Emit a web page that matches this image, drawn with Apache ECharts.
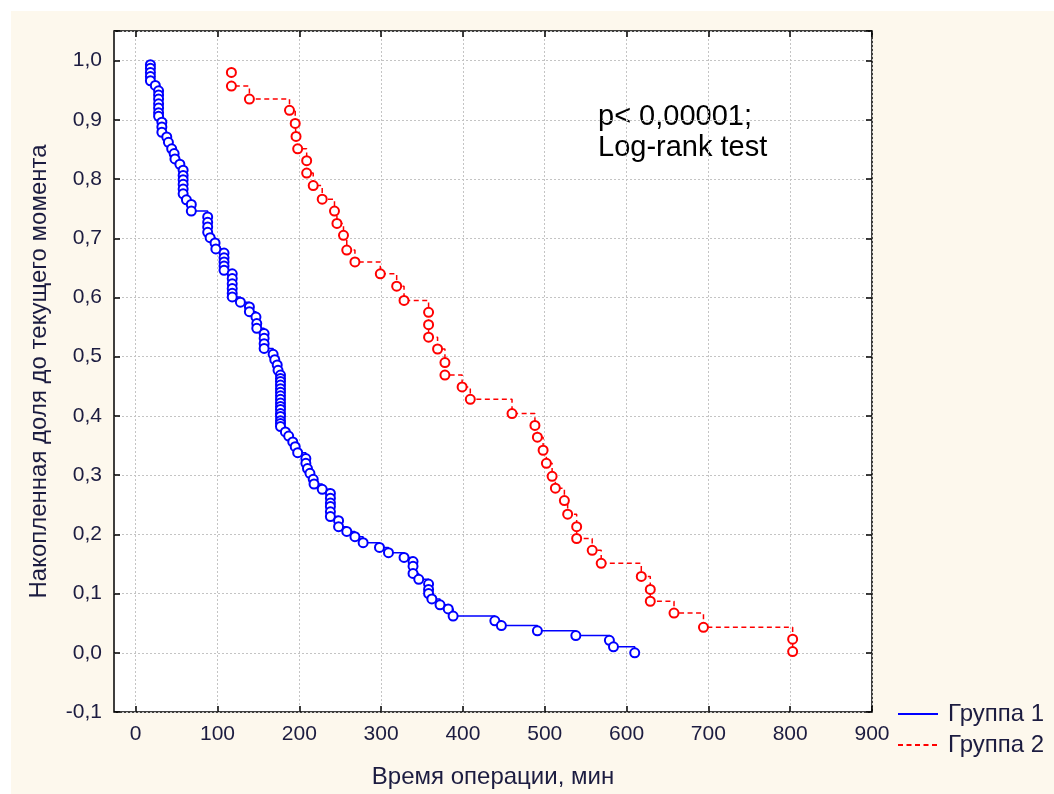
<!DOCTYPE html>
<html>
<head>
<meta charset="utf-8">
<script src="https://cdn.jsdelivr.net/npm/echarts@6.0.0/dist/echarts.min.js"></script>
<style>
  html, body { margin: 0; padding: 0; background: #fff; }
  #panel { position: absolute; left: 11px; top: 11px; width: 1043px; height: 783px; background: #fdf8ed; }
  #chart { position: absolute; left: 0; top: 0; width: 1054px; height: 794px; }
</style>
</head>
<body>
<div id="panel"></div>
<div id="chart"></div>
<script>
// Группа 1 — время (мин) и накопленная доля
const time1 = [18, 18, 18, 18, 18, 24, 28, 28, 28, 28, 28, 28, 28, 32, 32, 32,
  38, 40, 44, 47, 48, 54, 58, 58, 58, 58, 58, 58, 62, 68, 68, 88, 88, 88, 88,
  91, 97, 98, 108, 108, 108, 108, 108, 118, 118, 118, 118, 118, 118, 128, 139, 139, 147,
  148, 148, 157, 157, 157, 157, 168, 170, 173, 174,
  177, 177, 177, 177, 177, 177, 177, 177, 177, 177, 177, 177, 177, 177, 177, 177,
  183, 187, 192, 195, 198, 208, 208, 210, 213, 217, 218, 228,
  238, 238, 238, 238, 238, 238, 248, 248, 258, 268, 278, 298, 309,
  328, 339, 339, 339, 346, 358, 358, 358, 362, 372, 382, 388,
  439, 447, 491, 538, 579, 584, 610]
const value1 = [0.993, 0.987, 0.980, 0.973, 0.966, 0.958, 0.949, 0.942, 0.935, 0.927, 0.920, 0.912, 0.906,
  0.896, 0.888, 0.879, 0.871, 0.862, 0.851, 0.843, 0.834, 0.825,
  0.815, 0.806, 0.799, 0.791, 0.783, 0.775, 0.765, 0.757, 0.746, 0.736, 0.727, 0.719, 0.710,
  0.701, 0.692, 0.682, 0.675, 0.667, 0.660, 0.653, 0.646, 0.640, 0.632, 0.623, 0.615, 0.607, 0.601,
  0.592, 0.584, 0.576, 0.567, 0.556, 0.548, 0.539, 0.531, 0.522, 0.514, 0.504, 0.495, 0.486, 0.477,
  0.469, 0.463, 0.458, 0.452, 0.446, 0.440, 0.434, 0.428, 0.422, 0.416, 0.411, 0.404, 0.399, 0.392, 0.387, 0.382,
  0.373, 0.366, 0.356, 0.348, 0.338, 0.328, 0.320, 0.311, 0.303, 0.293, 0.285, 0.276,
  0.269, 0.261, 0.253, 0.247, 0.238, 0.230, 0.223, 0.213, 0.205, 0.196, 0.186, 0.178, 0.169,
  0.161, 0.154, 0.146, 0.134, 0.124, 0.116, 0.107, 0.100, 0.091, 0.081, 0.074, 0.062,
  0.054, 0.046, 0.037, 0.029, 0.021, 0.010, 0.000]

// Группа 2
const time2 = [117, 117, 139, 188, 195, 196, 198, 209, 209, 217, 228, 243, 246, 254, 258, 268, 299, 319,
  328, 358, 358, 358, 369, 378, 378, 399, 409, 460, 488, 491, 498, 502, 509, 513, 524, 528, 539,
  539, 558, 569, 618, 629, 629, 658, 694, 803, 803]
const value2 = [0.980, 0.957, 0.935, 0.916, 0.894, 0.872, 0.851, 0.831, 0.810, 0.789, 0.766, 0.746, 0.725,
  0.705, 0.680, 0.660, 0.640, 0.619, 0.595, 0.575, 0.554, 0.533, 0.513, 0.490, 0.469, 0.449, 0.428,
  0.404, 0.384, 0.364, 0.342, 0.320, 0.298, 0.278, 0.257, 0.234, 0.213, 0.193, 0.173, 0.151,
  0.129, 0.107, 0.087, 0.067, 0.043, 0.023, 0.002]

const xTicks = [0, 100, 200, 300, 400, 500, 600, 700, 800, 900]
const seriesNames = ['Группа 1', 'Группа 2']
const note = 'p< 0,00001;\nLog-rank test'

const textColor = '#1c1c40'
const font = 'Liberation Sans, Arial, sans-serif'

function pairs (xs, ys) {
  return xs.map((x, i) => [x, ys[i]])
}

// подписи оси Y с запятой, без подписи у верхней границы 1,05
function yLabel (v) {
  const r = Math.round(v * 10)
  if (Math.abs(v * 10 - r) > 1e-6) return ''
  return (r / 10).toFixed(1).replace('.', ',')
}

const xBase = {
  type: 'value',
  min: -26.5,
  max: 900,
  axisLine: { show: false, onZero: false },
  axisTick: { show: true, inside: true, length: 6, customValues: xTicks, lineStyle: { color: '#000', width: 1.5 } },
  splitLine: { show: false }
}
const yBase = {
  type: 'value',
  min: -0.1,
  max: 1.05,
  interval: 0.1,
  axisLine: { show: false, onZero: false },
  axisTick: { show: true, inside: true, length: 6, lineStyle: { color: '#000', width: 1.5 } },
  splitLine: { show: false }
}
const gridLine = { show: true, lineStyle: { color: '#c4c4c4', width: 1, type: [2, 2] } }

const options = {
  animation: false,
  textStyle: { fontFamily: font },
  grid: {
    left: 114, top: 31, right: 182, bottom: 82,
    show: true,
    backgroundColor: '#fff',
    borderColor: '#000',
    borderWidth: 1.5
  },
  legend: {
    orient: 'vertical',
    left: 897,
    top: 702,
    padding: 0,
    itemWidth: 40,
    itemHeight: 20,
    itemGap: 7,
    data: seriesNames,
    itemStyle: { opacity: 0 },
    textStyle: { fontSize: 24, color: textColor, fontFamily: font, padding: [0, 0, 0, 5] }
  },
  graphic: [{
    type: 'text',
    left: 598,
    top: 101,
    style: { text: note, font: '29px ' + font, fill: '#000', lineHeight: 31 }
  }],
  xAxis: [
    Object.assign({}, xBase, {
      position: 'bottom',
      name: 'Время операции, мин',
      nameLocation: 'middle',
      nameGap: 53,
      nameTextStyle: { fontSize: 24, color: textColor, fontFamily: font },
      axisLabel: { customValues: xTicks, fontSize: 21, color: textColor, margin: 12 },
      splitLine: gridLine
    }),
    Object.assign({}, xBase, { position: 'top', axisLabel: { show: false } })
  ],
  yAxis: [
    Object.assign({}, yBase, {
      position: 'left',
      name: 'Накопленная доля до текущего момента',
      nameLocation: 'middle',
      nameGap: 63,
      nameTextStyle: { fontSize: 24, color: textColor, fontFamily: font },
      axisLabel: { formatter: yLabel, fontSize: 21, color: textColor, margin: 12 },
      splitLine: gridLine
    }),
    Object.assign({}, yBase, { position: 'right', axisLabel: { show: false } })
  ],
  series: [{
    name: seriesNames[0],
    type: 'line',
    step: 'end',
    data: pairs(time1, value1),
    symbol: 'emptyCircle',
    symbolSize: 9,
    showAllSymbol: true,
    color: '#0000ff',
    lineStyle: { color: '#0000ff', width: 1.5 },
    itemStyle: { color: '#0000ff', borderWidth: 1.5 }
  }, {
    name: seriesNames[1],
    type: 'line',
    step: 'end',
    data: pairs(time2, value2),
    symbol: 'emptyCircle',
    symbolSize: 9,
    showAllSymbol: true,
    color: '#ff0000',
    lineStyle: { color: '#ff0000', width: 1.5, type: [5, 3.5] },
    itemStyle: { color: '#ff0000', borderWidth: 1.5 }
  }]
}

const myChart = echarts.init(document.getElementById('chart'), null, { renderer: 'canvas' })
myChart.setOption(options)
</script>
</body>
</html>
